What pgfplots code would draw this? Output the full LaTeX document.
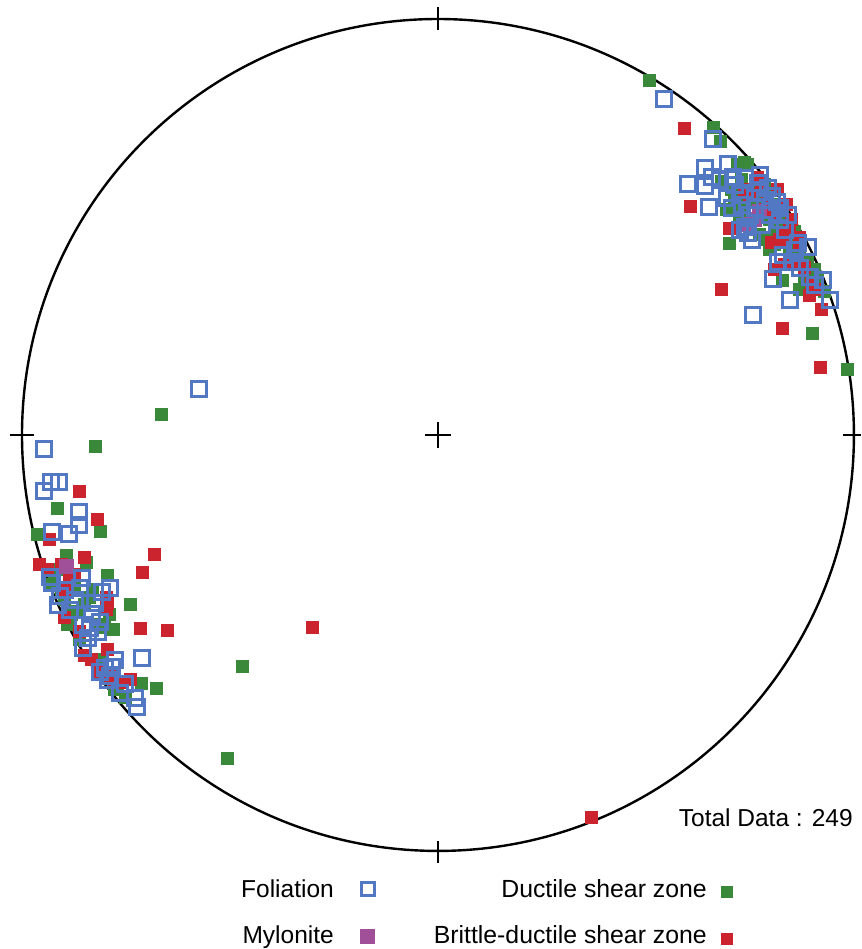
\documentclass[border=0pt]{standalone}
\usepackage{fontspec}
\setmainfont{Liberation Sans}
\usepackage{pgfplots}
\pgfplotsset{compat=1.18}
\definecolor{fol}{RGB}{82,120,196}
\definecolor{duc}{RGB}{58,136,58}
\definecolor{bri}{RGB}{204,36,46}
\definecolor{myl}{RGB}{160,80,152}
\begin{document}
\begin{tikzpicture}
\begin{axis}[x=1pt,y=1pt,y dir=reverse,xmin=0,xmax=861,ymin=0,ymax=949,
  hide axis,clip=false,scale only axis]
\path (axis cs:0,0) rectangle (axis cs:861,949);
\draw[line width=2.4pt] (axis cs:438,435) circle[radius=416pt];
\draw[line width=1.8pt] (axis cs:425,435) -- (axis cs:451,435);
\draw[line width=1.8pt] (axis cs:438,422) -- (axis cs:438,448);
\draw[line width=1.8pt] (axis cs:438,7) -- (axis cs:438,30);
\draw[line width=1.8pt] (axis cs:438,841) -- (axis cs:438,863);
\draw[line width=1.8pt] (axis cs:10,435) -- (axis cs:34,435);
\draw[line width=1.8pt] (axis cs:843,435) -- (axis cs:861,435);
% Ductile shear zone
\addplot[only marks,mark=square*,mark size=6pt,draw=none,mark options={draw=duc,fill=duc,line width=0pt},color=duc] coordinates {
(650,81)(714,128)(721,142)(738,165)(748,165)(722,182)(727,210)(732,190)(740,205)(745,215)
(760,210)(770,220)(775,230)(790,240)(795,232)(730,244)(783,281)(813,334)(848,370)(805,272)
(800,290)(770,250)(805,285)(815,270)(825,292)(790,253)(755,200)(765,185)(778,205)(785,220)
(750,225)(760,235)(742,180)(735,200)(768,240)(798,258)(808,262)(818,280)(775,245)(782,212)
(740,220)(752,192)(788,232)(800,250)(745,163)
(96,447)(58,509)(38,535)(101,532)(67,556)(87,563)(108,576)(131,605)(114,630)(78,612)
(93,590)(50,585)(65,600)(72,615)(60,570)(75,585)(90,598)(142,684)(157,689)(126,698)
(115,690)(97,625)(105,628)(162,415)(243,667)(228,759)(62,590)(68,625)(110,615)(85,605)
(55,572)(102,660)(118,685)(80,640)
};
% Brittle-ductile shear zone
\addplot[only marks,mark=square*,mark size=6pt,draw=none,mark options={draw=bri,fill=bri,line width=0pt},color=bri] coordinates {
(685,129)(691,207)(722,290)(730,229)(762,185)(750,195)(775,215)(783,235)(790,228)(805,268)
(815,290)(822,310)(783,329)(821,368)(785,265)(800,245)(768,198)(778,190)(792,220)(772,243)
(795,262)(810,296)(758,178)(780,240)(765,210)(787,205)(745,190)(800,238)(775,270)(812,283)
(80,492)(98,520)(50,540)(85,558)(155,555)(143,573)(108,604)(107,610)(141,629)(168,631)
(313,628)(48,570)(62,565)(75,575)(108,650)(85,656)(115,680)(123,683)(131,680)(592,818)
(65,618)(80,632)(65,590)(40,565)(107,598)(92,660)(110,676)(100,672)(70,580)
};
% Mylonite
\addplot[only marks,mark=square*,mark size=7pt,mark options={draw=myl,fill=myl,line width=0pt},color=myl] coordinates {
(67,567)(755,220)(760,212)(750,225)
};
% Foliation
\addplot[only marks,mark=square,mark size=7.5pt,mark options={draw=fol,line width=2.3pt,fill=none},color=fol] coordinates {
(664,99)(713,139)(728,164)(705,168)(688,184)(705,186)(712,177)(733,177)(709,207)(727,198)
(740,195)(758,183)(760,192)(777,202)(780,208)(752,240)(745,227)(748,233)(780,220)(798,243)
(808,247)(778,262)(792,262)(773,279)(810,277)(823,280)(790,300)(830,300)(753,315)(783,255)
(780,213)(740,230)(735,185)(745,178)(765,200)(770,215)(755,208)(762,225)(750,215)(768,188)
(785,230)(795,250)(815,285)(800,268)(742,205)(732,208)(720,180)(760,175)(772,196)(788,215)
(199,389)
(44,449)(44,491)(51,482)(59,482)(79,512)(79,525)(69,534)(52,532)
(50,577)(52,583)(82,578)(80,588)(110,588)(102,592)(95,603)(58,605)(70,610)(83,625)
(100,622)(90,628)(83,648)(115,660)(142,658)(105,668)(100,672)(108,680)(120,693)(135,698)
(137,707)(112,667)(65,590)(75,600)(60,596)(92,614)(88,638)(125,684)(110,676)(98,632)
};
% legend
\node[anchor=base east,inner sep=0pt,font=\fontsize{24.5}{29}\selectfont] at (axis cs:853,827) {Total Data : 249};
\node[anchor=base east,inner sep=0pt,font=\fontsize{24.5}{29}\selectfont] at (axis cs:334,898) {Foliation};
\node[anchor=base east,inner sep=0pt,font=\fontsize{24.5}{29}\selectfont] at (axis cs:334,944) {Mylonite};
\node[anchor=base east,inner sep=0pt,font=\fontsize{24.8}{29}\selectfont] at (axis cs:707,898) {Ductile shear zone};
\node[anchor=base east,inner sep=0pt,font=\fontsize{24.8}{29}\selectfont] at (axis cs:707,944) {Brittle-ductile shear zone};
\addplot[only marks,mark=square,mark size=6.5pt,mark options={draw=fol,line width=2.2pt}] coordinates {(368,889)};
\addplot[only marks,mark=square*,mark size=7pt,mark options={draw=myl,fill=myl,line width=0pt}] coordinates {(368,937)};
\addplot[only marks,mark=square*,mark size=5.5pt,mark options={draw=duc,fill=duc,line width=0pt}] coordinates {(727,892)};
\addplot[only marks,mark=square*,mark size=5.5pt,mark options={draw=bri,fill=bri,line width=0pt}] coordinates {(727,939)};
\end{axis}
\end{tikzpicture}
\end{document}
